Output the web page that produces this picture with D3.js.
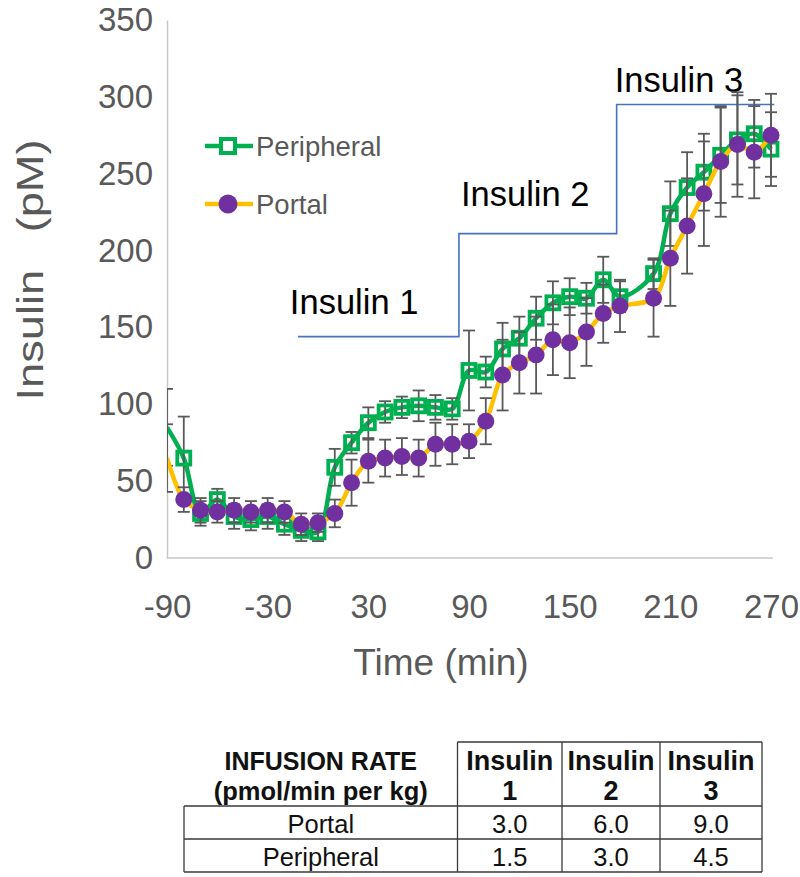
<!DOCTYPE html>
<html><head><meta charset="utf-8">
<script src="https://cdn.jsdelivr.net/npm/d3@7"></script>
<style>
body{margin:0;background:#fff}
svg{display:block}
text{font-family:"Liberation Sans",Arial,Helvetica,sans-serif}
</style>
</head><body>
<svg id="chart" width="800" height="877"></svg>
<script>
// ---------------- DATA ----------------
const times = [-90,-80,-70,-60,-50,-40,-30,-20,-10,0,10,20,30,40,50,60,70,80,90,100,110,120,130,140,150,160,170,180,200,210,220,230,240,250,260,270];
const peripheral    = [85,65,29,38,27,25,27,22,18,17,59,75,88,95,98,99,98,97,122,121,136,143,156,166,170,169,181,170,185,224,241,251,262,272,276,266];
const peripheralErr = [25,27,8,7,8,7,8,7,7,6,12,7,10,7,7,10,8,7,26,10,17,14,14,14,12,10,15,10,10,21,23,25,31,29,22,24];
const portal        = [65,38,31,30,31,30,31,30,22,23,29,49,63,65,66,65,74,74,76,89,119,127,132,142,140,147,159,164,169,195,216,237,258,269,264,275];
const portalErr     = [22,8,8,7,8,7,8,7,7,6,9,15,14,12,12,12,14,13,11,15,23,20,25,23,23,22,19,17,25,31,31,34,36,34,30,27];

const xTicks = [-90,-30,30,90,150,210,270];
const yTicks = [0,50,100,150,200,250,300,350];

// infusion steps (start times and levels of the annotation staircase)
const stepTimes  = [-12,84,178,272];
const stepLevels = [144,211,295];
const stepLabels = ["Insulin 1","Insulin 2","Insulin 3"];

// table
const tableHeadLeft = ["INFUSION RATE","(pmol/min per kg)"];
const tableCols = [["Insulin","1"],["Insulin","2"],["Insulin","3"]];
const tableRowNames = ["Portal","Peripheral"];
const tableValues = [["3.0","6.0","9.0"],["1.5","3.0","4.5"]];

// ---------------- CHART ----------------
const svg = d3.select("#chart");
const x = d3.scaleLinear().domain([-90,270]).range([167,771]);
const y = d3.scaleLinear().domain([0,350]).range([558,20]);
const GREEN="#00b050", PURPLE="#7030a0", ORANGE="#ffc000", GRAY="#595959";

svg.append("defs").append("clipPath").attr("id","plotclip")
  .append("rect").attr("x",x(-90)).attr("y",0).attr("width",620).attr("height",570);

// axes
const fmt = d => String(d);
const yAxis = svg.append("g").attr("transform",`translate(${x(-90)},0)`)
  .call(d3.axisLeft(y).tickValues(yTicks).tickFormat(fmt).tickSize(0).tickPadding(14));
yAxis.select(".domain").attr("stroke","#c8c8c8").attr("stroke-width",1.5);
yAxis.selectAll("text").attr("fill",GRAY).attr("font-size",33);

const xAxis = svg.append("g").attr("transform",`translate(0,${y(0)})`)
  .call(d3.axisBottom(x).tickValues(xTicks).tickFormat(fmt).tickSize(0).tickPadding(37));
xAxis.select(".domain").attr("stroke","#c8c8c8").attr("stroke-width",1.5)
  .attr("d",`M${x(-90)},0H${x(271)}`);
xAxis.selectAll("text").attr("fill",GRAY).attr("font-size",33);

// axis titles
svg.append("text").attr("transform","translate(30,270) rotate(-90) scale(1.22,1)")
  .attr("text-anchor","middle").attr("dy","0.35em")
  .attr("font-size",37).attr("fill",GRAY).attr("xml:space","preserve").text("Insulin   (pM)");
svg.append("text").attr("x",441).attr("y",662).attr("dy","0.35em")
  .attr("text-anchor","middle").attr("font-size",37).attr("fill",GRAY).text("Time (min)");

// staircase
const stairPts = [];
stepLevels.forEach((lv,i)=>{ stairPts.push([stepTimes[i],lv]); stairPts.push([stepTimes[i+1],lv]); });
svg.append("path").attr("fill","none").attr("stroke","#4472c4").attr("stroke-width",1.6)
  .attr("d",d3.line().x(d=>x(d[0])).y(d=>y(d[1]))(stairPts));
const labOff = [[-8,-23],[2,-28],[-2,-13]];
stepLabels.forEach((t,i)=>{
  svg.append("text").attr("x",x(stepTimes[i])+labOff[i][0]).attr("y",y(stepLevels[i])+labOff[i][1])
    .attr("font-size",34.5).attr("fill","#000").text(t);
});

// series
const plot = svg.append("g").attr("clip-path","url(#plotclip)");
function series(vals, errs, color, lineColor, shape){
  const data = times.map((t,i)=>({t, v:vals[i], e:errs[i]}));
  plot.append("path").datum(data).attr("fill","none").attr("stroke",lineColor)
    .attr("stroke-width",4.5).attr("stroke-linejoin","round")
    .attr("d",d3.line().x(d=>x(d.t)).y(d=>y(d.v)).curve(d3.curveCatmullRom.alpha(0.5)));
  const eb = plot.append("g").attr("stroke",GRAY).attr("stroke-width",1.8);
  data.forEach(d=>{
    const cx=x(d.t), y1=y(d.v+d.e), y2=y(d.v-d.e);
    eb.append("line").attr("x1",cx).attr("x2",cx).attr("y1",y1).attr("y2",y2);
    eb.append("line").attr("x1",cx-6).attr("x2",cx+6).attr("y1",y1).attr("y2",y1);
    eb.append("line").attr("x1",cx-6).attr("x2",cx+6).attr("y1",y2).attr("y2",y2);
  });
  const mk = data.filter(d=>d.t>-90);
  if(shape==="square"){
    plot.append("g").selectAll("rect").data(mk).join("rect")
      .attr("x",d=>x(d.t)-6.5).attr("y",d=>y(d.v)-6.5).attr("width",13).attr("height",13)
      .attr("fill","none").attr("stroke",color).attr("stroke-width",3.8);
  } else {
    plot.append("g").selectAll("circle").data(mk).join("circle")
      .attr("cx",d=>x(d.t)).attr("cy",d=>y(d.v)).attr("r",8.5).attr("fill",color);
  }
}
series(peripheral, peripheralErr, GREEN, GREEN, "square");
series(portal, portalErr, PURPLE, ORANGE, "circle");

// legend
const leg = svg.append("g");
leg.append("line").attr("x1",205).attr("x2",253).attr("y1",146).attr("y2",146).attr("stroke",GREEN).attr("stroke-width",4.5);
leg.append("rect").attr("x",221).attr("y",139).attr("width",14).attr("height",14).attr("fill","#fff").attr("stroke",GREEN).attr("stroke-width",4);
leg.append("text").attr("x",256).attr("y",146).attr("dy","0.35em").attr("font-size",27.5).attr("fill",GRAY).text("Peripheral");
leg.append("line").attr("x1",205).attr("x2",253).attr("y1",204).attr("y2",204).attr("stroke",ORANGE).attr("stroke-width",4.5);
leg.append("circle").attr("cx",228).attr("cy",204).attr("r",9.5).attr("fill",PURPLE);
leg.append("text").attr("x",256).attr("y",204).attr("dy","0.35em").attr("font-size",27.5).attr("fill",GRAY).text("Portal");

// ---------------- TABLE ----------------
const colX = [184,457.5,562,660,762];
const rowY = [742,806,839,872];
const tb = svg.append("g");
const lc = "#3a3a3a", lw = 1.3;
tb.append("path").attr("fill","none").attr("stroke",lc).attr("stroke-width",lw)
  .attr("d",`M${colX[1]},${rowY[0]}H${colX[4]}` +
            colX.slice(1).map(cx=>`M${cx},${rowY[0]}V${rowY[3]}`).join("") +
            `M${colX[0]},${rowY[1]}V${rowY[3]}` +
            rowY.slice(1).map(ry=>`M${colX[0]},${ry}H${colX[4]}`).join(""));
const leftMid = (colX[0]+colX[1])/2;
tb.append("text").attr("x",leftMid).attr("y",770).attr("text-anchor","middle").attr("font-weight","bold").attr("font-size",25).attr("fill","#111").text(tableHeadLeft[0]);
tb.append("text").attr("x",leftMid).attr("y",800).attr("text-anchor","middle").attr("font-weight","bold").attr("font-size",25.5).attr("fill","#111").text(tableHeadLeft[1]);
tableCols.forEach((c,i)=>{
  const cx=(colX[i+1]+colX[i+2])/2;
  tb.append("text").attr("x",cx).attr("y",770).attr("text-anchor","middle").attr("font-weight","bold").attr("font-size",27).attr("fill","#111").text(c[0]);
  tb.append("text").attr("x",cx).attr("y",800).attr("text-anchor","middle").attr("font-weight","bold").attr("font-size",27).attr("fill","#111").text(c[1]);
});
tableRowNames.forEach((r,ri)=>{
  const by = rowY[ri+2]-6;
  tb.append("text").attr("x",leftMid).attr("y",by).attr("text-anchor","middle").attr("font-size",25.5).attr("fill","#111").text(r);
  tableValues[ri].forEach((v,ci)=>{
    tb.append("text").attr("x",(colX[ci+1]+colX[ci+2])/2).attr("y",by).attr("text-anchor","middle").attr("font-size",25.5).attr("fill","#111").text(v);
  });
});
</script>
</body></html>
